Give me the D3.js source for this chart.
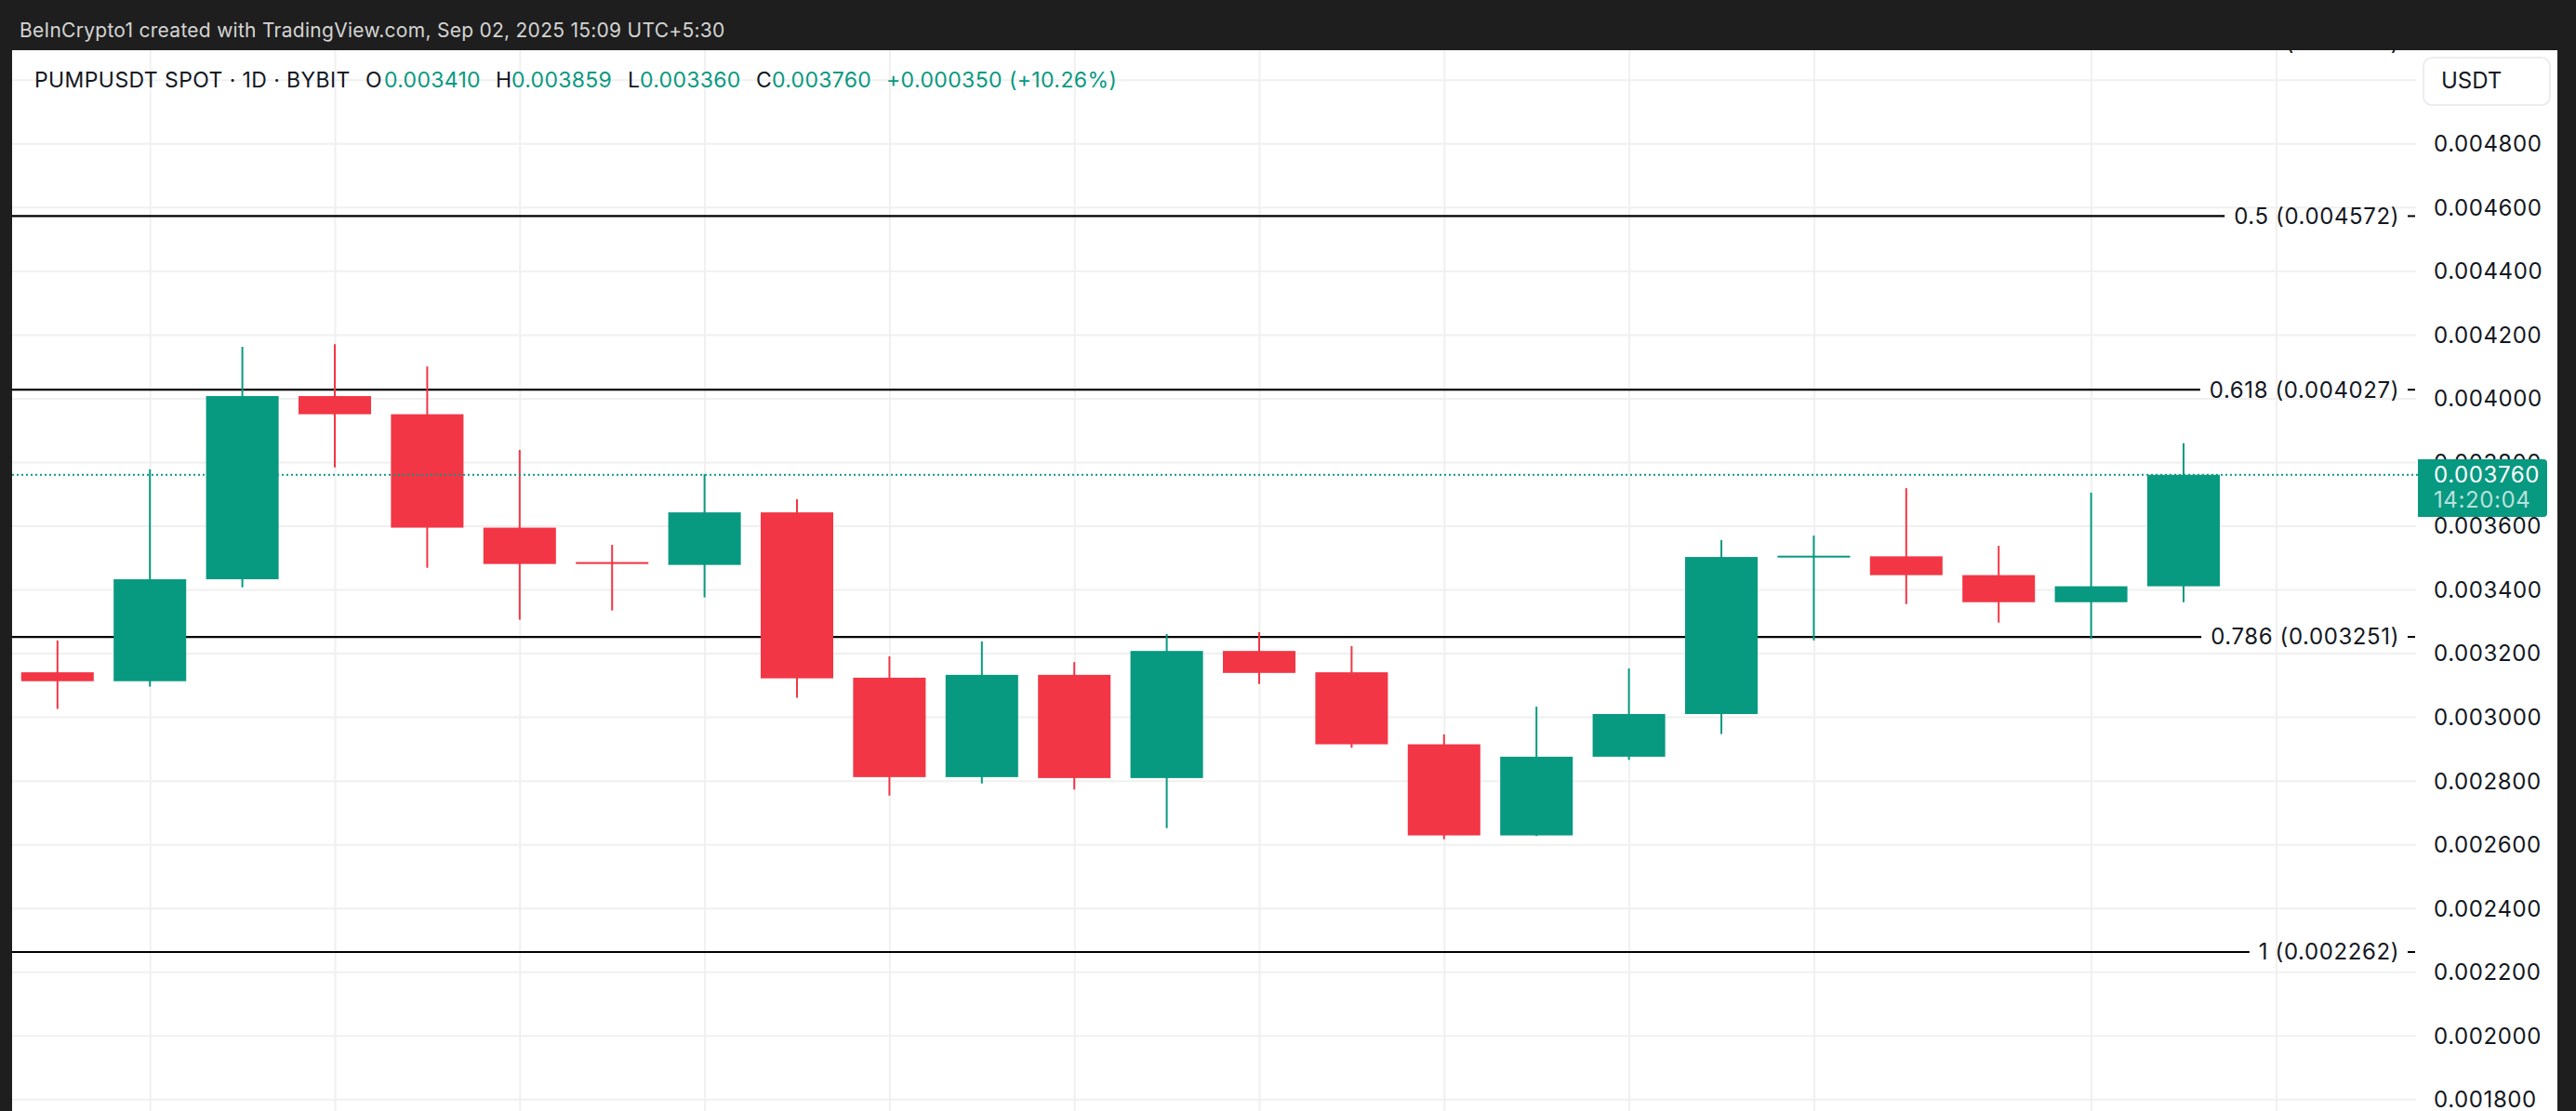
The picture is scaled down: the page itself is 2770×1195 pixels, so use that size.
<!DOCTYPE html>
<html>
<head>
<meta charset="utf-8">
<script src="https://cdn.jsdelivr.net/npm/d3@7"></script>
<style>
html,body{margin:0;padding:0;background:#ffffff;overflow:hidden}
svg{display:block}
</style>
</head>
<body>
<svg id="chart" width="2770" height="1195"></svg>
<script>
// ---------- DATA ----------
const dates = ["2025-08-10","2025-08-11","2025-08-12","2025-08-13","2025-08-14","2025-08-15",
  "2025-08-16","2025-08-17","2025-08-18","2025-08-19","2025-08-20","2025-08-21","2025-08-22",
  "2025-08-23","2025-08-24","2025-08-25","2025-08-26","2025-08-27","2025-08-28","2025-08-29",
  "2025-08-30","2025-08-31","2025-09-01","2025-09-02"];
const opens  = [0.003140,0.003112,0.003432,0.004007,0.003950,0.003594,0.003486,0.003477,0.003642,0.003123,0.002811,0.003132,
                0.002808,0.003207,0.003140,0.002914,0.002628,0.002875,0.003009,0.003502,0.003504,0.003445,0.003360,0.003410];
const highs  = [0.003240,0.003777,0.004162,0.004170,0.004100,0.003838,0.003540,0.003762,0.003683,0.003190,0.003237,0.003172,
                0.003260,0.003266,0.003222,0.002945,0.003032,0.003152,0.003555,0.003569,0.003718,0.003537,0.003704,0.003859];
const lows   = [0.003025,0.003095,0.003407,0.003783,0.003468,0.003305,0.003334,0.003375,0.003060,0.002753,0.002791,0.002772,
                0.002651,0.003103,0.002903,0.002616,0.002626,0.002865,0.002946,0.003240,0.003354,0.003296,0.003245,0.003360];
const closes = [0.003112,0.003432,0.004007,0.003950,0.003594,0.003480,0.003480,0.003642,0.003121,0.002811,0.003132,0.002808,
                0.003207,0.003138,0.002914,0.002628,0.002875,0.003009,0.003502,0.003506,0.003445,0.003360,0.003410,0.003760];
const gridPrices = [0.0018,0.0020,0.0022,0.0024,0.0026,0.0028,0.0030,0.0032,0.0034,0.0036,0.0038,0.0040,
                    0.0042,0.0044,0.0046,0.0048,0.0050];
const priceTickLabels = [0.0018,0.0020,0.0022,0.0024,0.0026,0.0028,0.0030,0.0032,0.0034,0.0036,0.0038,0.0040,
                    0.0042,0.0044,0.0046,0.0048];
const gridDates = ["2025-08-11","2025-08-13","2025-08-15","2025-08-17","2025-08-19","2025-08-21","2025-08-23",
                   "2025-08-25","2025-08-27","2025-08-29","2025-09-01","2025-09-03"];
const fibRatios = ["0.382","0.5","0.618","0.786","1"];
const fibPrices = [0.005117,0.004572,0.004027,0.003251,0.002262];
const symbolLabel = "PUMPUSDT SPOT · 1D · BYBIT";
const currencyLabel = "USDT";
const countdownLabel = "14:20:04";
const watermark = "BeInCrypto1 created with TradingView.com, Sep 02, 2025 15:09 UTC+5:30";

// ---------- SETUP ----------
const W = 2770, H = 1195;
const UP = "#089981", DOWN = "#F23645", FRAME = "#1e1e1e", GRID = "#f0f0f0", TEXT = "#131722";
const FONT = "Inter, 'Noto Sans', sans-serif";
const plotL = 13, plotR = 2598, plotT = 54, plotB = H;

const parse = d3.utcParse("%Y-%m-%d");
const candles = dates.map((d,i)=>({date:parse(d),o:opens[i],h:highs[i],l:lows[i],c:closes[i]}));

const x = d3.scaleUtc()
  .domain([parse(dates[0]), parse(dates[dates.length-1])])
  .range([61.8, 2348]);
const y = d3.scaleLinear().domain([0.0018, 0.0048]).range([1182.3, 154.3]);
const dayW = x(parse("2025-08-11")) - x(parse("2025-08-10"));
const bodyW = dayW * 0.785;

const svg = d3.select("#chart").style("font-family", FONT);
svg.append("rect").attr("width",W).attr("height",H).attr("fill","#ffffff");

// grid
const yAxisGrid = d3.axisRight(y).tickValues(gridPrices).tickSize(plotR - plotL).tickFormat("");
svg.append("g").attr("transform",`translate(${plotL},0)`).call(yAxisGrid)
  .call(g=>g.select(".domain").remove())
  .call(g=>g.selectAll("line").attr("stroke",GRID).attr("stroke-width",2));
const xAxisGrid = d3.axisBottom(x).tickValues(gridDates.map(parse)).tickSize(plotB - plotT).tickFormat("");
svg.append("g").attr("transform",`translate(0,${plotT})`).call(xAxisGrid)
  .call(g=>g.select(".domain").remove())
  .call(g=>g.selectAll("line").attr("stroke",GRID).attr("stroke-width",2));

// fib levels
const fibG = svg.append("g");
fibRatios.forEach((r,i)=>{
  const yy = y(fibPrices[i]);
  const t = fibG.append("text").attr("x",2580).attr("y",yy).attr("dy","0.35em")
    .attr("text-anchor","end").attr("font-size",24).attr("fill",TEXT).attr("letter-spacing","0.6px")
    .text(`${r} (${fibPrices[i].toFixed(6)})`);
  const w = t.node().getComputedTextLength();
  fibG.append("line").attr("x1",plotL).attr("x2",2580 - w - 10).attr("y1",yy).attr("y2",yy)
    .attr("stroke","#000").attr("stroke-width",2.2);
  fibG.append("line").attr("x1",2589).attr("x2",2597).attr("y1",yy).attr("y2",yy)
    .attr("stroke","#000").attr("stroke-width",2);
});

// candles
const cg = svg.append("g");
cg.selectAll("line.wick").data(candles).join("line").attr("class","wick")
  .attr("x1",d=>x(d.date)).attr("x2",d=>x(d.date))
  .attr("y1",d=>y(d.h)).attr("y2",d=>y(d.l))
  .attr("stroke",d=>d.c>=d.o?UP:DOWN).attr("stroke-width",2);
cg.selectAll("rect.body").data(candles).join("rect").attr("class","body")
  .attr("x",d=>x(d.date)-bodyW/2).attr("width",bodyW)
  .attr("y",d=>y(Math.max(d.o,d.c)))
  .attr("height",d=>Math.max(2, Math.abs(y(d.o)-y(d.c))))
  .attr("fill",d=>d.c>=d.o?UP:DOWN);

// last price dotted line
const last = candles[candles.length-1];
const prev = candles[candles.length-2];
svg.append("line").attr("x1",plotL).attr("x2",2600).attr("y1",y(last.c)).attr("y2",y(last.c))
  .attr("stroke",UP).attr("stroke-width",2).attr("stroke-dasharray","2,3");

// price axis labels
const fmt6 = d3.format(".6f");
const yAxis = d3.axisRight(y).tickValues(priceTickLabels).tickSize(0).tickPadding(0).tickFormat(fmt6);
svg.append("g").attr("transform","translate(2617,0)").call(yAxis)
  .call(g=>g.select(".domain").remove())
  .call(g=>g.selectAll("text").attr("font-size",24).attr("font-family",FONT).attr("fill",TEXT)
     .attr("letter-spacing","0.6px").attr("dy","0.35em"));

// currency box
svg.append("rect").attr("x",2606).attr("y",62).attr("width",136).attr("height",51).attr("rx",9)
  .attr("fill","#fff").attr("stroke","#e6e8ee").attr("stroke-width",1.5);
svg.append("text").attr("x",2625).attr("y",87).attr("dy","0.35em").attr("font-size",24)
  .attr("fill",TEXT).text(currencyLabel);

// last price label
svg.append("rect").attr("x",2600).attr("y",494).attr("width",139).attr("height",62).attr("rx",4).attr("fill",UP);
svg.append("rect").attr("x",2600).attr("y",494).attr("width",10).attr("height",62).attr("fill",UP);
svg.append("text").attr("x",2617).attr("y",y(last.c)).attr("dy","0.35em").attr("font-size",24)
  .attr("letter-spacing","0.6px").attr("fill","#fff").text(fmt6(last.c));
svg.append("text").attr("x",2617).attr("y",538).attr("dy","0.35em").attr("font-size",24)
  .attr("letter-spacing","0.6px").attr("fill","rgba(255,255,255,0.72)").text(countdownLabel);

// frame
svg.append("rect").attr("x",0).attr("y",0).attr("width",W).attr("height",plotT).attr("fill",FRAME);
svg.append("rect").attr("x",0).attr("y",0).attr("width",plotL).attr("height",H).attr("fill",FRAME);
svg.append("rect").attr("x",2750).attr("y",0).attr("width",W-2750).attr("height",H).attr("fill",FRAME);
svg.append("text").attr("x",21).attr("y",39.5).attr("font-size",21).attr("letter-spacing","0.27px")
  .attr("fill","#d4d4d4").text(watermark);

// legend
const chg = last.c - prev.c;
const legendParts = [
  [symbolLabel, 37, TEXT, 0.4],
  ["O", 393, TEXT, 0], [fmt6(last.o), 413, UP, 0.3],
  ["H", 533, TEXT, 0], [fmt6(last.h), 550, UP, 0.3],
  ["L", 675, TEXT, 0], [fmt6(last.l), 688, UP, 0.3],
  ["C", 813, TEXT, 0], [fmt6(last.c), 830, UP, 0.3],
  [`${chg>=0?"+":""}${fmt6(chg)} (${chg>=0?"+":""}${(chg/prev.c*100).toFixed(2)}%)`, 953, UP, 0.4]
];
svg.append("g").selectAll("text").data(legendParts).join("text")
  .attr("x",d=>d[1]).attr("y",94).attr("font-size",23).attr("letter-spacing",d=>d[3]+"px")
  .attr("fill",d=>d[2]).text(d=>d[0]);
</script>
</body>
</html>
